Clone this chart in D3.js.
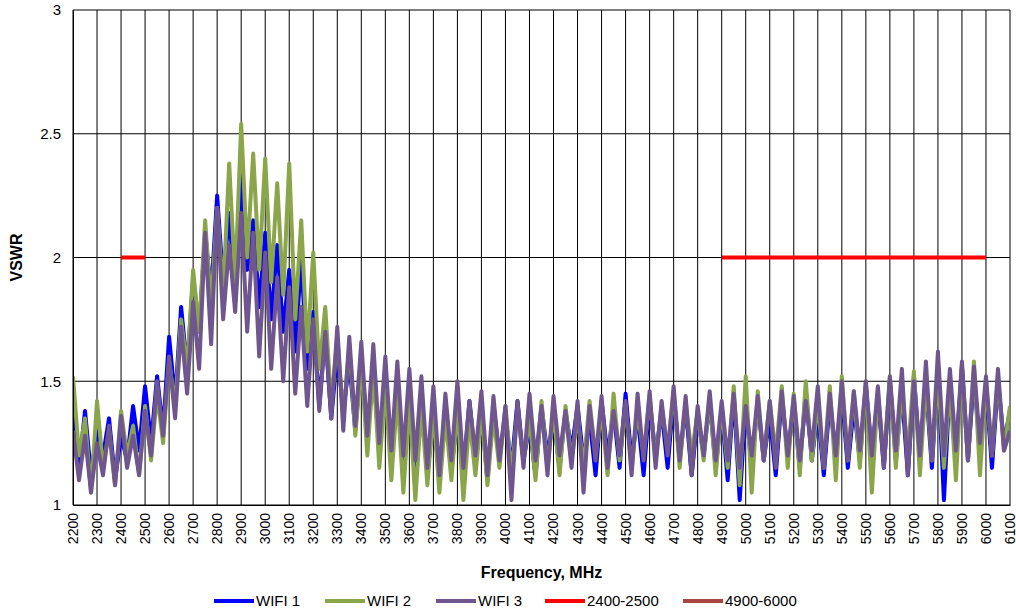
<!DOCTYPE html>
<html>
<head>
<meta charset="utf-8">
<script src="https://cdn.jsdelivr.net/npm/d3@7.9.0/dist/d3.min.js"></script>
<style>
  body { margin: 0; background: #fff; }
  text { font-family: "Liberation Sans", Arial, sans-serif; }
</style>
</head>
<body>
<svg id="chart" width="1016" height="613"></svg>
<script>
// frequency step of the sampled traces, MHz
const freqStart = 2200, freqStep = 25;

const wifi1 = [
  1.45,1.15,1.38,1.12,1.30,1.20,1.35,1.10,1.28,1.18,1.40,1.22,
  1.48,1.25,1.52,1.30,1.68,1.42,1.80,1.55,1.92,1.70,2.10,1.85,
  2.25,1.90,2.18,1.85,2.34,1.95,2.15,1.80,2.10,1.75,2.05,1.70,
  1.95,1.62,2.00,1.55,1.78,1.40,1.70,1.35,1.62,1.38,1.58,1.30,
  1.60,1.28,1.55,1.22,1.50,1.20,1.48,1.15,1.42,1.10,1.45,1.12,
  1.38,1.10,1.40,1.15,1.35,1.12,1.42,1.18,1.38,1.10,1.40,1.20,
  1.36,1.15,1.42,1.18,1.32,1.12,1.40,1.20,1.35,1.15,1.38,1.22,
  1.40,1.18,1.35,1.12,1.42,1.20,1.38,1.15,1.45,1.18,1.36,1.12,
  1.42,1.20,1.38,1.15,1.44,1.18,1.40,1.12,1.36,1.20,1.42,1.15,
  1.38,1.10,1.45,1.02,1.40,1.15,1.42,1.18,1.36,1.12,1.44,1.20,
  1.40,1.15,1.46,1.18,1.38,1.12,1.42,1.20,1.45,1.15,1.40,1.18,
  1.48,1.20,1.44,1.15,1.50,1.18,1.46,1.12,1.52,1.20,1.48,1.15,
  1.55,1.02,1.50,1.20,1.56,1.18,1.52,1.22,1.48,1.15,1.50,1.25,
  1.38];
const wifi2 = [
  1.52,1.20,1.35,1.05,1.42,1.15,1.30,1.08,1.38,1.20,1.32,1.12,
  1.40,1.18,1.45,1.25,1.58,1.40,1.75,1.55,1.95,1.70,2.15,1.80,
  2.20,1.85,2.38,1.90,2.54,2.00,2.42,1.95,2.40,1.90,2.30,1.85,
  2.38,1.75,2.15,1.62,2.02,1.55,1.80,1.40,1.68,1.35,1.65,1.28,
  1.58,1.20,1.55,1.15,1.48,1.10,1.45,1.05,1.42,1.02,1.40,1.08,
  1.38,1.05,1.36,1.10,1.40,1.02,1.35,1.12,1.38,1.08,1.36,1.15,
  1.40,1.12,1.38,1.18,1.35,1.10,1.42,1.15,1.38,1.12,1.40,1.18,
  1.36,1.15,1.42,1.20,1.38,1.12,1.45,1.18,1.40,1.15,1.38,1.20,
  1.44,1.18,1.40,1.22,1.46,1.15,1.42,1.20,1.38,1.18,1.44,1.12,
  1.40,1.15,1.48,1.08,1.52,1.05,1.46,1.18,1.42,1.20,1.48,1.15,
  1.45,1.12,1.50,1.18,1.42,1.15,1.48,1.10,1.52,1.18,1.46,1.15,
  1.50,1.05,1.46,1.18,1.52,1.15,1.48,1.20,1.54,1.12,1.50,1.18,
  1.52,1.15,1.48,1.10,1.56,1.18,1.58,1.12,1.50,1.20,1.52,1.22,
  1.40];
const wifi3 = [
  1.30,1.10,1.28,1.05,1.25,1.12,1.32,1.08,1.36,1.15,1.28,1.12,
  1.38,1.20,1.50,1.28,1.60,1.35,1.72,1.45,1.82,1.55,2.10,1.65,
  2.20,1.75,2.05,1.78,2.18,1.70,2.10,1.60,2.02,1.55,1.92,1.50,
  1.88,1.45,1.80,1.40,1.75,1.38,1.70,1.35,1.72,1.30,1.68,1.32,
  1.66,1.28,1.65,1.25,1.60,1.22,1.58,1.20,1.55,1.18,1.52,1.15,
  1.48,1.12,1.45,1.18,1.50,1.15,1.42,1.20,1.46,1.12,1.44,1.18,
  1.40,1.02,1.42,1.15,1.45,1.18,1.40,1.12,1.44,1.20,1.38,1.15,
  1.42,1.05,1.40,1.18,1.44,1.15,1.38,1.20,1.42,1.12,1.45,1.18,
  1.46,1.15,1.42,1.20,1.48,1.18,1.44,1.12,1.40,1.20,1.46,1.18,
  1.42,1.18,1.45,1.15,1.40,1.20,1.44,1.18,1.42,1.15,1.46,1.20,
  1.44,1.18,1.42,1.22,1.48,1.15,1.45,1.20,1.50,1.18,1.46,1.22,
  1.50,1.20,1.48,1.15,1.52,1.22,1.55,1.12,1.50,1.20,1.58,1.18,
  1.62,1.20,1.55,1.22,1.58,1.18,1.56,1.25,1.52,1.20,1.55,1.22,
  1.30];

// limit lines: [from, to] at VSWR 2
const band1 = [[2400, 2], [2500, 2]];
const band2 = [[4900, 2], [6000, 2]];

const xTicks = d3.range(2200, 6101, 100);
const yTicks = [1, 1.5, 2, 2.5, 3];

const series = [
  { name: "WIFI 1", color: "#0000ff", values: wifi1 },
  { name: "WIFI 2", color: "#8aa54a", values: wifi2 },
  { name: "WIFI 3", color: "#6f568f", values: wifi3 }
];
const limits = [
  { name: "2400-2500", color: "#ff0000", points: band1 },
  { name: "4900-6000", color: "#a94540", points: band2 }
];

const svg = d3.select("#chart");
const m = { left: 73, right: 1010, top: 10, bottom: 505 };

const x = d3.scaleLinear().domain([2200, 6100]).range([m.left, m.right]);
const y = d3.scaleLinear().domain([1, 3]).range([m.bottom, m.top]);

// gridlines
svg.append("g").selectAll("line").data(xTicks).join("line")
  .attr("x1", d => x(d)).attr("x2", d => x(d))
  .attr("y1", m.top).attr("y2", m.bottom)
  .attr("stroke", "#000").attr("stroke-width", 1);
svg.append("g").selectAll("line").data(yTicks).join("line")
  .attr("x1", m.left).attr("x2", m.right)
  .attr("y1", d => y(d)).attr("y2", d => y(d))
  .attr("stroke", "#000").attr("stroke-width", 1);

svg.append("clipPath").attr("id", "plot")
  .append("rect").attr("x", m.left).attr("y", m.top)
  .attr("width", m.right - m.left).attr("height", m.bottom - m.top);

const line = d3.line()
  .x((d, i) => x(freqStart + i * freqStep))
  .y(d => y(d));

const plot = svg.append("g").attr("clip-path", "url(#plot)");
series.forEach(s => {
  plot.append("path").datum(s.values)
    .attr("d", line)
    .attr("fill", "none")
    .attr("stroke", s.color)
    .attr("stroke-width", 4)
    .attr("stroke-linejoin", "round");
});

const limLine = d3.line().x(d => x(d[0])).y(d => y(d[1]));
limits.forEach(l => {
  plot.append("path").datum(l.points)
    .attr("d", limLine)
    .attr("stroke", "#ff0000")
    .attr("stroke-width", 4);
});

// y axis
const yAxis = svg.append("g").attr("transform", `translate(${m.left},0)`)
  .call(d3.axisLeft(y).tickValues(yTicks).tickSize(0).tickPadding(12)
    .tickFormat(d3.format("")));
yAxis.select(".domain").attr("stroke", "#000");
yAxis.selectAll("text").attr("font-size", 15).attr("fill", "#000");

// x axis
const xAxis = svg.append("g").attr("transform", `translate(0,${m.bottom})`)
  .call(d3.axisBottom(x).tickValues(xTicks).tickSize(0).tickFormat(d3.format("d")));
xAxis.select(".domain").attr("stroke", "#000");
xAxis.selectAll("text")
  .attr("font-size", 14).attr("fill", "#000")
  .attr("text-anchor", "end")
  .attr("transform", "rotate(-90)")
  .attr("x", -8).attr("y", 0).attr("dy", "0.32em");

svg.append("text")
  .attr("x", (m.left + m.right) / 2).attr("y", 578)
  .attr("text-anchor", "middle")
  .attr("font-size", 16).attr("font-weight", "bold")
  .text("Frequency, MHz");

svg.append("text")
  .attr("transform", `translate(22,${(m.top + m.bottom) / 2}) rotate(-90)`)
  .attr("text-anchor", "middle")
  .attr("font-size", 16).attr("font-weight", "bold")
  .text("VSWR");

// legend
const legendItems = series.map(s => ({ name: s.name, color: s.color }))
  .concat(limits.map(l => ({ name: l.name, color: l.color })));
const legendX = [214, 325, 436, 545, 683];
const lg = svg.append("g").selectAll("g").data(legendItems).join("g")
  .attr("transform", (d, i) => `translate(${legendX[i]},601)`);
lg.append("line").attr("x1", 0).attr("x2", 40)
  .attr("stroke", d => d.color).attr("stroke-width", 4);
lg.append("text").attr("x", 42).attr("dy", "0.35em")
  .attr("font-size", 15).text(d => d.name);
</script>
</body>
</html>
